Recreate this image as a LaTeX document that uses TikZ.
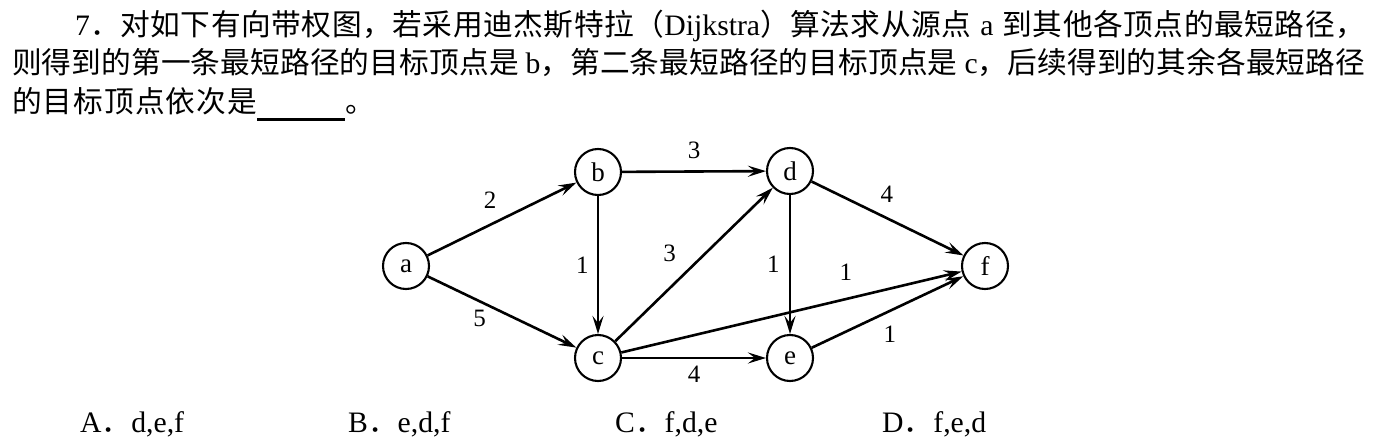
\documentclass[tikz,border=0pt]{standalone}
\usepackage{fontspec}
\setmainfont{Liberation Serif}
\newfontfamily\cjk{Noto Sans CJK SC}
% stretchable glue between CJK characters, so lines can be justified
\XeTeXinterchartokenstate=1
\newXeTeXintercharclass\hanzicls
\count255="4E00
\loop \XeTeXcharclass\count255=\hanzicls \ifnum\count255<"9FFF \advance\count255 by 1 \repeat
\XeTeXcharclass"FF0C=\hanzicls \XeTeXcharclass"FF08=\hanzicls
\XeTeXcharclass"FF09=\hanzicls \XeTeXcharclass"FF0E=\hanzicls
\XeTeXcharclass"3002=\hanzicls
\XeTeXinterchartoks\hanzicls\hanzicls={\hskip0pt plus 1pt\relax}
\usetikzlibrary{arrows.meta}

\begin{document}
\begin{tikzpicture}[x=1pt,y=-1pt,
  vtx/.style={circle,draw,line width=2.1pt,minimum size=46pt,inner sep=0pt,font=\fontsize{27}{27}\selectfont},
  edge/.style={-{Stealth[length=18pt,width=11pt,inset=7pt]},line width=2.6pt},
  wt/.style={font=\fontsize{25}{25}\selectfont,inner sep=3pt},
  txt/.style={anchor=base west,inner sep=0pt,font=\fontsize{29.7}{30}\selectfont}]
\useasboundingbox (0,0) rectangle (1383,441);

% question text
\node[txt] (q1) at (75,36) {\makebox[1290pt][s]{7{\cjk ．对如下有向带权图，若采用迪杰斯特拉（}Dijkstra{\cjk ）算法求从源点}\hspace{9pt}a\hspace{9pt}{\cjk 到其他各顶点的最短路径，}}};
\node[txt] (q2) at (12,74) {\makebox[1353pt][s]{{\cjk 则得到的第一条最短路径的目标顶点是}\hspace{7pt}b{\cjk ，第二条最短路径的目标顶点是}\hspace{7pt}c{\cjk ，后续得到的其余各最短路径}}};
\node[txt] (q3) at (12,113) {\makebox[245pt][s]{\cjk 的目标顶点依次是}\rule[-8pt]{88pt}{2.5pt}{\cjk 。}};

% vertices
\node[vtx] (a) at (406,266) {a};
\node[vtx] (b) at (598,172) {b};
\node[vtx] (c) at (598,358) {c};
\node[vtx] (d) at (790,171) {d};
\node[vtx] (e) at (790,358) {e};
\node[vtx] (f) at (985,266) {f};

% weighted arcs
\draw[edge] (a) -- node[wt,pos=0.42,above=12pt] {2} (b);
\draw[edge] (a) -- node[wt,pos=0.42,below left] {5} (c);
\draw[edge] (b) -- node[wt,above=8pt] {3} (d);
\draw[edge] (b) -- node[wt,left=5pt] {1} (c);
\draw[edge] (c) -- node[wt,pos=0.45,above left=6pt] {3} (d);
\draw[edge] (c) -- node[wt,pos=0.66,above=14pt] {1} (f);
\draw[edge] (c) -- node[wt,below=4pt] {4} (e);
\draw[edge] (d) -- node[wt,left=6pt] {1} (e);
\draw[edge] (d) -- node[wt,pos=0.4,above right=4pt] {4} (f);
\draw[edge] (e) -- node[wt,pos=0.42,below right=4pt] {1} (f);

% choices
\node[txt] (oa) at (80,432) {A{\cjk ．}d,e,f};
\node[txt] (ob) at (348,432) {B{\cjk ．}e,d,f};
\node[txt] (oc) at (615,432) {C{\cjk ．}f,d,e};
\node[txt] (od) at (882,432) {D{\cjk ．}f,e,d};
\end{tikzpicture}
\end{document}
